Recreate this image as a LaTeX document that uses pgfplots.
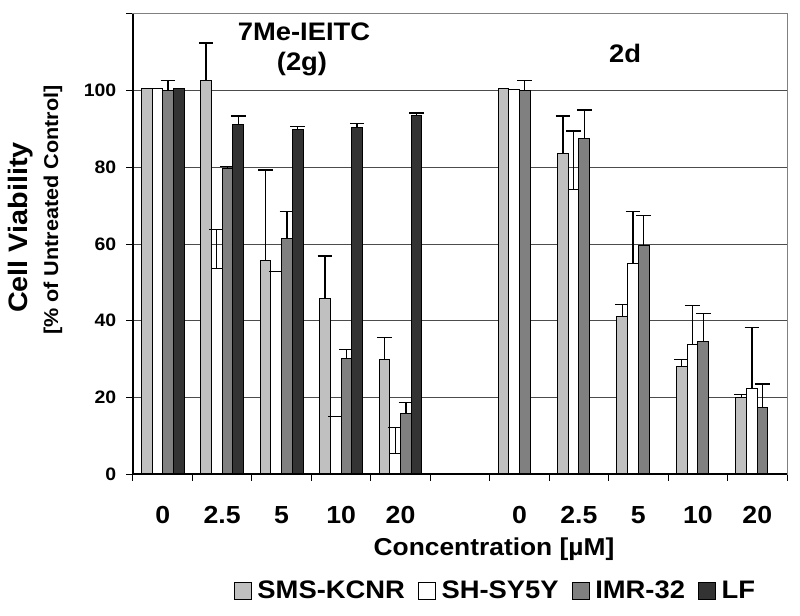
\documentclass[border=0pt]{standalone}
\usepackage{pgfplots}
\pgfplotsset{compat=1.18}
\usepackage{pgfplotstable}
\usepackage{fontspec}
\setmainfont{Liberation Sans}[FakeStretch=1.08]
\definecolor{smsc}{HTML}{C0C0C0}
\definecolor{imrc}{HTML}{808080}
\definecolor{lfc}{HTML}{333333}

\pgfplotstableread{
x y e
0 100.5 nan
1 102.6 9.8
2 55.6 23.7
3 45.8 11.1
4 29.8 5.8
6 100.5 nan
7 83.6 9.8
8 41.2 3.1
9 28.1 1.7
10 19.9 0.8
}\sms
\pgfplotstableread{
x y e
0 100.5 nan
1 53.7 10.0
2 52.8 0
3 15.0 0
4 5.3 6.8
6 100.3 nan
7 74.2 15.3
8 54.9 13.5
9 33.7 10.3
10 22.3 16.0
}\shsy
\pgfplotstableread{
x y e
0 100.1 2.5
1 79.7 0.5
2 61.5 6.9
3 30.2 2.2
4 15.8 2.9
6 100.1 2.5
7 87.4 7.6
8 59.7 7.8
9 34.6 7.3
10 17.3 6.2
}\imr
\pgfplotstableread{
x y e
0 100.5 nan
1 91.1 2.3
2 90.0 0.7
3 90.3 1.2
4 93.4 0.8
}\lf

\pgfplotsset{
  viabar/.style={draw=black, line width=0.75pt,
    error bars/y dir=plus, error bars/y explicit,
    error bars/error bar style={black, line width=1pt},
    error bars/error mark options={black, rotate=90, mark size=5.5pt, line width=1pt}},
}

\begin{document}
\begin{tikzpicture}[font=\bfseries]
\path[use as bounding box] (-99.75pt,-105.75pt) rectangle (500.25pt,355.5pt);
\begin{axis}[
  at={(0,0)}, anchor=south west,
  scale only axis, width=490.5pt, height=345pt,
  ymin=0, ymax=120, xmin=-0.5, xmax=10.5,
  ybar=0pt, bar width=0.18,
  axis line style={black!50, line width=0.75pt},
  tick pos=left, tick align=outside,
  ytick={0,20,...,120}, yticklabels={0,20,40,60,80,100,{}},
  ymajorgrids, major grid style={black!70, line width=0.75pt},
  xtick={-0.5,0.5,...,10.5}, x tick label as interval,
  xticklabels={0,2.5,5,10,20,{},0,2.5,5,10,20},
  major tick length=5pt,
  tick style={black, line width=0.75pt},
  xticklabel style={font=\fontsize{18.5}{22}\selectfont\bfseries, yshift=-15.5pt},
  yticklabel style={font=\fontsize{13.5}{16}\selectfont\bfseries, xshift=-4pt},
  legend style={at={(0.555,-0.254)}, anchor=center, draw=none, fill=none,
    legend columns=4, font=\fontsize{19}{22}\selectfont\bfseries,
    /tikz/every even column/.append style={column sep=8pt},
    /tikz/every odd column/.append style={column sep=2pt}},
  legend image code/.code={\draw[#1,draw=black,line width=0.75pt] (0pt,-6.4pt) rectangle (12.75pt,6.4pt);},
  after end axis/.code={
    \draw[black, line width=0.8pt] (rel axis cs:0,1) -- (rel axis cs:0,0) -- (rel axis cs:1,0);
  },
]
\addplot[viabar, fill=smsc] table[x=x, y=y, y error=e]{\sms};
\addlegendentry{SMS-KCNR}
\addplot[viabar, fill=white] table[x=x, y=y, y error=e]{\shsy};
\addlegendentry{SH-SY5Y}
\addplot[viabar, fill=imrc] table[x=x, y=y, y error=e]{\imr};
\addlegendentry{IMR-32}
\addplot[viabar, fill=lfc] table[x=x, y=y, y error=e]{\lf};
\addlegendentry{LF}
\end{axis}
\node[font=\fontsize{19}{22}\selectfont\bfseries] at (128.25pt,331.5pt) {7Me-IEITC};
\node[font=\fontsize{19}{22}\selectfont\bfseries] at (126.75pt,307.5pt) {(2g)};
\node[font=\fontsize{19}{22}\selectfont\bfseries] at (369pt,315.75pt) {2d};
\node[rotate=90, font=\fontsize{20}{24}\selectfont\bfseries] at (-84pt,184.9pt) {Cell Viability};
\node[rotate=90, font=\fontsize{15}{18}\selectfont\bfseries] at (-60pt,198pt) {[\% of Untreated Control]};
\node[font=\fontsize{18.3}{22}\selectfont\bfseries] at (270.75pt,-56.25pt) {Concentration [µM]};
\end{tikzpicture}
\end{document}
